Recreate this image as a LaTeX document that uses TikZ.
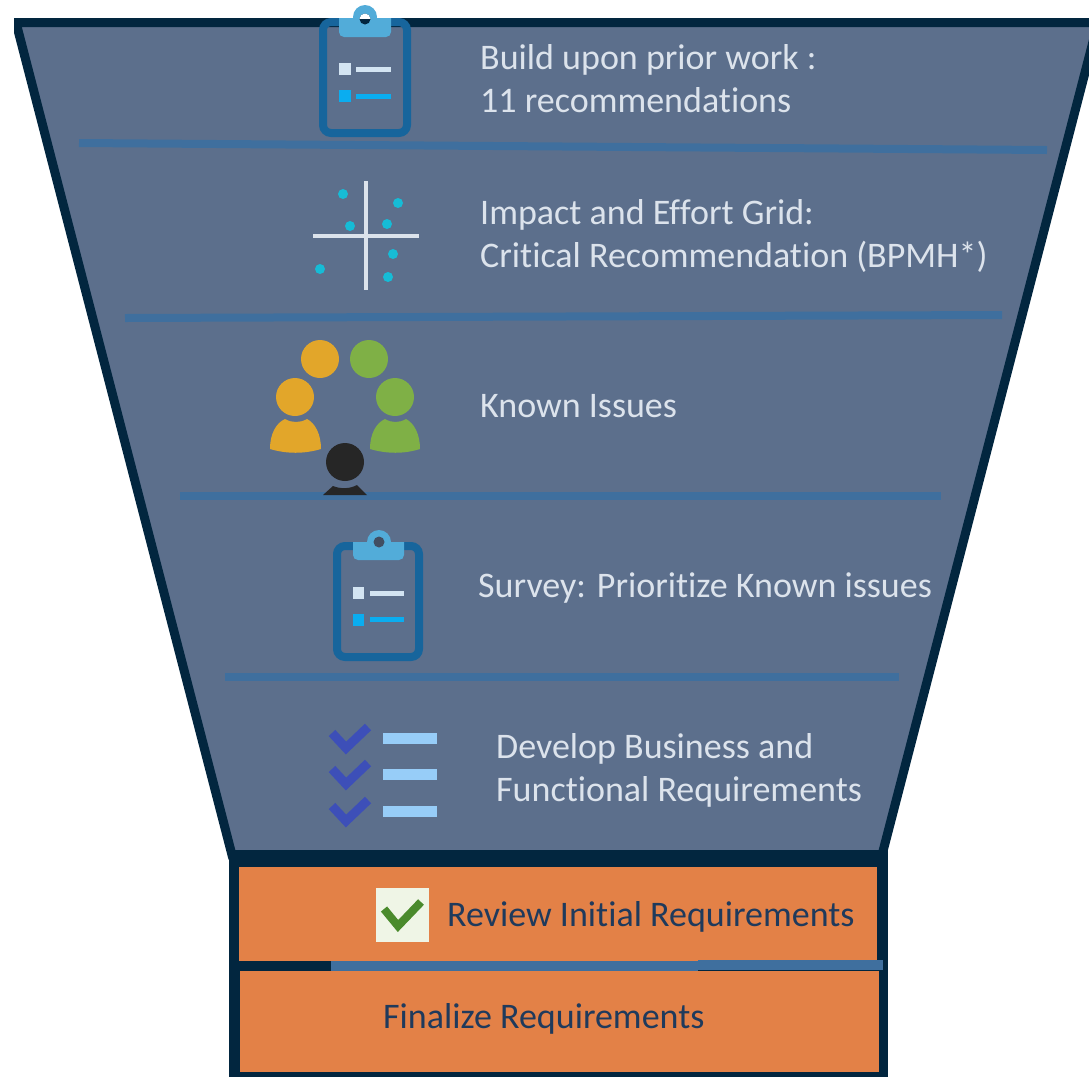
\documentclass[tikz,border=0pt]{standalone}
\usepackage{fontspec}
\setmainfont[Ligatures=NoCommon]{Carlito}
\definecolor{navy}{HTML}{02263F}
\definecolor{slateblue}{HTML}{5C6F8C}
\definecolor{divider}{HTML}{3F6F9E}
\definecolor{clipframe}{HTML}{17659C}
\definecolor{cliptop}{HTML}{52ACD9}
\definecolor{pale}{HTML}{D3E4F2}
\definecolor{vivid}{HTML}{0AADF0}
\definecolor{orangebox}{HTML}{E38147}
\definecolor{txtlight}{HTML}{DCE3EC}
\definecolor{txtdark}{HTML}{1F3A5C}
\definecolor{teal}{HTML}{16BCD6}
\definecolor{amber}{HTML}{E2A62A}
\definecolor{leaf}{HTML}{7FB046}
\definecolor{ink}{HTML}{262626}
\definecolor{tick}{HTML}{3D4FB8}
\definecolor{bar}{HTML}{97CDF8}
\definecolor{checkbg}{HTML}{EFF5E6}
\definecolor{checkfg}{HTML}{4A8A2C}
\tikzset{
  x=1pt,y=-1pt,
  lighttext/.style={anchor=west,align=left,text=txtlight,font=\fontsize{36}{43}\selectfont,inner sep=0pt},
  darktext/.style={anchor=west,text=txtdark,font=\fontsize{36}{43}\selectfont,inner sep=0pt},
  divline/.style={draw=divider,line width=8pt},
  clipbody/.style={draw=clipframe,line width=8pt,rounded corners=8pt},
  dotmark/.style={fill=teal},
  tickmark/.style={draw=tick,line width=9pt},
  barline/.style={fill=bar},
}
\begin{document}
\begin{tikzpicture}
\useasboundingbox (0,0) rectangle (1089,1077);
\fill[white] (0,0) rectangle (1089,1077);
% funnel
\begin{scope}
\clip (14,0) rectangle (1089,1077);
\draw[fill=slateblue,draw=navy,line width=9pt,line join=miter] (16,22.5) -- (1098,22.5) -- (882,855) -- (232,855) -- cycle;
\end{scope}
% dividers
\draw[divline] (79,143) -- (1047,150);
\draw[divline] (125,318) -- (1002,315);
\draw[divline] (180,496) -- (941,496);
\draw[divline] (225,677) -- (899,677);
% clipboard 1
\draw[clipbody] (323,22) rectangle (407,133);
\fill[cliptop] (339,18) -- (391,18) -- (391,32) arc (0:90:5) -- (344,37) arc (90:180:5) -- cycle;
\fill[cliptop] (365,17) circle (12);
\fill[navy] (365,19) circle (5.5);
\begin{scope}
\clip (350,0) rectangle (380,18);
\fill[white] (365,19) circle (5.5);
\end{scope}
\fill[pale] (339,63) rectangle (351,75);
\fill[pale] (356,67) rectangle (391,72);
\fill[vivid] (339,90) rectangle (351,102);
\fill[vivid] (356,94) rectangle (391,99);
% grid icon
\draw[txtlight,line width=3.5pt] (366,181) -- (366,290);
\draw[txtlight,line width=3.5pt] (313,236) -- (419,236);
\foreach \px/\py in {343/194,398/203,350/226,387/224,393/254,320/269,388/277}
  \fill[dotmark] (\px,\py) circle (5);
% people
\fill[amber] (320,359) circle (19);
\fill[leaf] (369,359) circle (19);
\fill[amber] (295,397) circle (19);
\fill[leaf] (395,397) circle (19);
\fill[amber] (270,449) .. controls (270,434) and (276,423) .. (285,419) .. controls (292,423) and (300,423) .. (307,419) .. controls (315,423) and (321,434) .. (321,449) .. controls (304,454) and (287,454) .. (270,449) -- cycle;
\fill[leaf] (370,449) .. controls (370,434) and (376,423) .. (385,419) .. controls (392,423) and (399,423) .. (406,419) .. controls (414,423) and (420,434) .. (420,449) .. controls (404,454) and (387,454) .. (370,449) -- cycle;
\fill[ink] (345,462) circle (19);
\fill[ink] (323,495) -- (333,486) .. controls (340,489) and (350,489) .. (357,485) -- (367,495) -- cycle;
% clipboard 2
\draw[clipbody] (337,546) rectangle (419,657);
\fill[cliptop] (353,542) -- (404,542) -- (404,555) arc (0:90:5) -- (358,560) arc (90:180:5) -- cycle;
\fill[cliptop] (379,542) circle (12);
\fill[slateblue!70!black] (379,542) circle (5.5);
\fill[pale] (353,587) rectangle (364,599);
\fill[pale] (370,591) rectangle (404,596);
\fill[vivid] (353,614) rectangle (364,626);
\fill[vivid] (370,617) rectangle (404,622);
% checklist
\draw[tickmark] (332,733) -- (346,748) -- (368,727);
\draw[tickmark] (332,769) -- (346,784) -- (368,763);
\draw[tickmark] (332,806) -- (346,821) -- (368,800);
\fill[barline] (383,733) rectangle (437,744);
\fill[barline] (383,769) rectangle (437,780);
\fill[barline] (383,806) rectangle (437,817);
% texts
\node[lighttext] (t1) at (480,79) {Build upon prior work :\\11 recommendations};
\node[lighttext] (t2) at (480,236) {Impact and Effort Grid:\\Critical Recommendation (BPMH*)};
\node[lighttext] (t3) at (480,406) {Known Issues};
\node[lighttext] (t4) at (478,588) {Survey: Prioritize Known issues};
\node[lighttext] (t5) at (496,770) {Develop Business and\\Functional Requirements};
% orange boxes
\fill[navy] (229,850) rectangle (888,1077);
\fill[orangebox] (239,867) rectangle (877,961);
\fill[orangebox] (240,971) rectangle (879,1072);
\fill[divider] (331,961) rectangle (698,971);
\fill[divider] (698,960) rectangle (883,970);
\fill[checkbg] (376,888) rectangle (429,942);
\draw[checkfg,line width=8pt] (384,909) -- (398,926) -- (421,902);
\node[darktext] (t6) at (447,917) {Review Initial Requirements};
\node[darktext] (t7) at (383,1019) {Finalize Requirements};
\end{tikzpicture}
\end{document}
